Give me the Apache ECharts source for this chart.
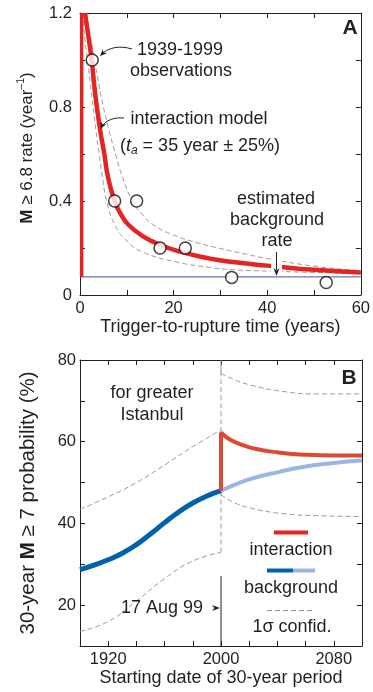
<!DOCTYPE html>
<html>
<head>
<meta charset="utf-8">
<script src="https://cdn.jsdelivr.net/npm/echarts@6/dist/echarts.min.js"></script>
<style>
  html, body { margin: 0; padding: 0; background: #fff; }
  #chart { width: 373px; height: 692px; }
</style>
</head>
<body>
<div id="chart"></div>
<script>
// ---- panel A: M>=6.8 rate vs trigger-to-rupture time ----
const obsA = [[2.6, 1.0], [7.4, 0.4], [12.1, 0.4], [17.1, 0.2], [22.5, 0.2], [32.4, 0.075], [52.6, 0.053]]
const modelA = [[1.06, 1.2], [1.8, 1.1], [2.5, 1.0], [3.0, 0.9], [3.6, 0.8], [4.4, 0.69], [5.2, 0.6], [6.0, 0.5],
  [7.4, 0.4], [8.7, 0.345], [10.3, 0.3], [13.2, 0.253], [17, 0.214], [22.2, 0.18], [27.5, 0.156], [33.2, 0.139],
  [40, 0.125], [50, 0.107], [60, 0.096]]
const upperA = [[1.4, 1.2], [2.2, 1.1], [3.1, 1.0], [4.0, 0.9], [5.0, 0.8], [6.2, 0.7], [7.6, 0.6], [9.1, 0.5],
  [11.2, 0.4], [13.2, 0.345], [15.6, 0.3], [20, 0.255], [25, 0.223], [30, 0.198], [35, 0.176], [40, 0.155],
  [50, 0.123], [60, 0.103]]
const lowerA = [[0.6, 1.2], [1.0, 1.1], [1.6, 1.0], [2.2, 0.9], [2.8, 0.8], [3.4, 0.7], [4.1, 0.6], [4.8, 0.5],
  [5.7, 0.4], [7.4, 0.3], [9.8, 0.234], [13.3, 0.184], [20.3, 0.142], [27.5, 0.118], [33.2, 0.107],
  [40, 0.102], [50, 0.096], [60, 0.092]]
const bgRateA = 0.077
const stepTimeA = 0.35

// ---- panel B: 30-year M>=7 probability vs starting date ----
const bgPast = [[1900, 28.7], [1910, 29.8], [1920, 31.1], [1930, 32.7], [1940, 34.8], [1950, 37.4], [1960, 40.2],
  [1970, 42.8], [1980, 45.0], [1990, 46.7], [2000, 48.0]]
const bgFuture = [[2000, 48.0], [2013.5, 50.0], [2025, 51.3], [2040, 52.5], [2056, 53.7], [2080, 54.8], [2100, 55.4]]
const interB = [[2000, 62.3], [2006, 60.6], [2013, 59.5], [2025, 58.2], [2040, 57.4], [2056, 56.9], [2080, 56.6], [2100, 56.6]]
const upperPast = [[1900, 43.5], [1920, 46.5], [1940, 50.0], [1960, 54.3], [1980, 58.8], [2000, 62.9]]
const lowerPast = [[1900, 13.6], [1920, 16.0], [1940, 21.0], [1960, 26.5], [1980, 30.8], [2000, 32.9]]
const upperFuture = [[2000, 76.7], [2008.7, 75.3], [2020.6, 73.9], [2044, 72.3], [2068, 71.7], [2100, 71.7]]
const lowerFuture = [[2000, 47.0], [2008.7, 45.2], [2020.6, 43.8], [2044, 42.4], [2068, 41.9], [2100, 41.7]]
const quakeYear = 2000
const quakeMarkTop = 27.1

const xLabelsA = [0, 20, 40, 60]
const yLabelsA = [0, 0.4, 0.8, 1.2]
const xLabelsB = [1920, 2000, 2080]
const yLabelsB = [20, 40, 60, 80]

const FONT = 'Liberation Sans, Arial, Helvetica, sans-serif'
const INK = '#231f20'
const RED = '#e52421'
const RED_B = '#dc4a32'
const DARK_BLUE = '#0062ad'
const LIGHT_BLUE = '#9cb6e2'
const GRAY = '#9a9a9a'

const chart = echarts.init(document.getElementById('chart'), null, { renderer: 'canvas' })

const frameLine = { show: true, onZero: false, lineStyle: { color: INK, width: 1 } }
const frameTick = { show: true, inside: true, length: 5, lineStyle: { color: INK, width: 1 } }

const pick = (list) => (v) => list.some(l => Math.abs(l - v) < 1e-6) ? String(+v.toFixed(1)) : ''

const makeX = (grid, pos, min, max, interval, labels, name, gap) => ({
  type: 'value', gridIndex: grid, position: pos, min, max, interval,
  axisLine: frameLine, axisTick: frameTick, splitLine: { show: false },
  axisLabel: labels ? { show: true, formatter: pick(labels), fontSize: 16.5, color: INK, fontFamily: FONT, margin: 5, showMinLabel: true, showMaxLabel: true } : { show: false },
  name: name || '', nameLocation: 'middle', nameGap: gap,
  nameTextStyle: { fontSize: 18, color: INK, fontFamily: FONT },
})
const makeY = (grid, pos, min, max, interval, labels, name, gap, margin, nameSize, namePad) => ({
  type: 'value', gridIndex: grid, position: pos, min, max, interval,
  axisLine: frameLine, axisTick: frameTick, splitLine: { show: false },
  axisLabel: labels ? { show: true, formatter: pick(labels), fontSize: 16.5, color: INK, fontFamily: FONT, margin, showMinLabel: true, showMaxLabel: true } : { show: false },
  name: name || '', nameLocation: 'middle', nameGap: gap, nameRotate: 90,
  nameTextStyle: {
    fontSize: nameSize || 18, lineHeight: 22, color: INK, fontFamily: FONT, padding: namePad || 0,
    rich: {
      b: { fontWeight: 'bold', fontSize: nameSize || 18, lineHeight: 22, fontFamily: FONT, color: INK },
      sup: { fontSize: 10.5, lineHeight: 10, verticalAlign: 'top', fontFamily: FONT, color: INK },
    },
  },
})

const dashed = (xi, yi, data) => ({
  type: 'line', xAxisIndex: xi, yAxisIndex: yi, data, smooth: true, symbol: 'none', silent: true,
  lineStyle: { color: GRAY, width: 1, type: [5, 3] }, z: 2,
})
const solid = (xi, yi, data, color, width, smooth, z) => ({
  type: 'line', xAxisIndex: xi, yAxisIndex: yi, data, smooth: !!smooth, symbol: 'none', silent: true,
  lineStyle: { color, width, cap: 'butt' }, z: z || 3,
})

// little arrow heads for the annotations
const head = (tx, ty, dx, dy, len, half) => {
  const n = Math.hypot(dx, dy); const ux = dx / n; const uy = dy / n
  const bx = tx - ux * len; const by = ty - uy * len
  return {
    type: 'polygon', z: 100,
    shape: { points: [[tx, ty], [bx - uy * half, by + ux * half], [tx - ux * len * 0.7, ty - uy * len * 0.7], [bx + uy * half, by - ux * half]] },
    style: { fill: INK },
  }
}
const txt = (x, y, text, extra) => ({
  type: 'text', x, y, z: 100,
  style: Object.assign({ text, fill: INK, fontSize: 18, fontFamily: FONT, align: 'center', verticalAlign: 'middle' }, extra || {}),
})
const curve = (x1, y1, c1x, c1y, c2x, c2y, x2, y2) => ({
  type: 'bezierCurve', z: 100,
  shape: { x1, y1, cpx1: c1x, cpy1: c1y, cpx2: c2x, cpy2: c2y, x2, y2 },
  style: { stroke: INK, lineWidth: 1, fill: null },
})

const option = {
  animation: false,
  backgroundColor: '#fff',
  textStyle: { fontFamily: FONT },
  grid: [
    { left: 80, top: 13, width: 282, height: 282 },
    { left: 80, top: 360, width: 282, height: 286 },
  ],
  xAxis: [
    makeX(0, 'bottom', 0, 60, 10, xLabelsA, 'Trigger-to-rupture time (years)', 19),
    makeX(0, 'top', 0, 60, 10, null),
    makeX(1, 'bottom', 1900, 2100, 20, xLabelsB, 'Starting date of 30-year period', 23),
    makeX(1, 'top', 1900, 2100, 20, null),
  ],
  yAxis: [
    makeY(0, 'left', 0, 1.2, 0.2, yLabelsA, '{b|M} ≥ 6.8 rate (year{sup|–1})', 42, 8, 17, [0, 0, 0, 12]),
    makeY(0, 'right', 0, 1.2, 0.2, null),
    makeY(1, 'left', 10, 80, 10, yLabelsB, '30-year {b|M} ≥ 7 probability (%)', 41, 4, 20.5),
    makeY(1, 'right', 10, 80, 10, null),
  ],
  series: [
    // panel A
    dashed(0, 0, lowerA),
    dashed(0, 0, upperA),
    solid(0, 0, [[0, bgRateA], [60, bgRateA]], '#3a56a6', 1, false, 2),
    solid(0, 0, [[stepTimeA, bgRateA], [stepTimeA, 1.2]], RED, 3.5, false, 4),
    solid(0, 0, modelA, RED, 4.5, true, 4),
    {
      type: 'scatter', xAxisIndex: 0, yAxisIndex: 0, data: obsA, symbol: 'circle', symbolSize: 12, silent: true, z: 10,
      itemStyle: { color: '#fff', borderColor: '#111', borderWidth: 1.5 },
    },
    // panel B
    dashed(2, 2, upperPast),
    dashed(2, 2, lowerPast),
    dashed(2, 2, upperFuture),
    dashed(2, 2, lowerFuture),
    dashed(2, 2, [[quakeYear, lowerPast[lowerPast.length - 1][1]], [quakeYear, upperFuture[0][1]]]),
    solid(2, 2, [[quakeYear, upperFuture[0][1]], [quakeYear, 80]], '#8a8a8a', 1, false, 2),
    solid(2, 2, [[quakeYear, 10], [quakeYear, quakeMarkTop]], INK, 1, false, 2),
    solid(2, 2, bgFuture, LIGHT_BLUE, 4, true, 3),
    solid(2, 2, bgPast, DARK_BLUE, 5, true, 4),
    solid(2, 2, [[quakeYear, bgPast[bgPast.length - 1][1]], interB[0]], RED_B, 4, false, 4),
    solid(2, 2, interB, RED_B, 4, true, 4),
  ],
  graphic: [
    // panel A labels
    txt(350, 28, 'A', { fontSize: 21, fontWeight: 'bold' }),
    txt(180, 50, '1939-1999'),
    txt(181, 71, 'observations'),
    curve(132, 49, 119, 45, 109, 48, 103, 53),
    head(100, 56, -3, 3, 7, 3),
    txt(199, 119, 'interaction model'),
    {
      type: 'text', x: 200, y: 146, z: 100,
      style: {
        text: '({i|t}{s|a} = 35 year ± 25%)', fill: INK, fontSize: 18, fontFamily: FONT, align: 'center', verticalAlign: 'middle',
        rich: {
          i: { fontSize: 18, fontStyle: 'italic', lineHeight: 22, fontFamily: FONT },
          s: { fontSize: 12, fontStyle: 'italic', lineHeight: 12, verticalAlign: 'bottom', fontFamily: FONT },
        },
      },
    },
    curve(124, 118, 113, 117, 106, 121, 103, 125),
    head(100.5, 129, -2, 4, 7, 3),
    txt(276, 199, 'estimated'),
    txt(277, 220, 'background'),
    txt(277, 241, 'rate'),
    { type: 'rect', z: 90, shape: { x: 271, y: 256, width: 11, height: 17 }, style: { fill: '#fff' } },
    { type: 'line', z: 100, shape: { x1: 276.5, y1: 252, x2: 276.5, y2: 270 }, style: { stroke: INK, lineWidth: 1 } },
    head(276.5, 276, 0, 1, 8, 3),
    // panel B labels
    txt(349, 378, 'B', { fontSize: 21, fontWeight: 'bold' }),
    txt(152, 393, 'for greater'),
    txt(152, 415, 'Istanbul'),
    txt(203, 608, '17 Aug 99', { align: 'right' }),
    head(220, 608, 1, 0, 8, 3),
    { type: 'line', z: 100, shape: { x1: 274, y1: 532.5, x2: 308, y2: 532.5 }, style: { stroke: RED, lineWidth: 4 } },
    txt(291, 550, 'interaction'),
    { type: 'line', z: 100, shape: { x1: 267, y1: 570.5, x2: 293, y2: 570.5 }, style: { stroke: DARK_BLUE, lineWidth: 4 } },
    { type: 'line', z: 100, shape: { x1: 293, y1: 570.5, x2: 315, y2: 570.5 }, style: { stroke: LIGHT_BLUE, lineWidth: 4 } },
    txt(291, 588, 'background'),
    { type: 'line', z: 100, shape: { x1: 267, y1: 610.5, x2: 315, y2: 610.5 }, style: { stroke: GRAY, lineWidth: 1, lineDash: [5, 3] } },
    txt(292, 627, '1σ confid.'),
  ],
}

chart.setOption(option)
</script>
</body>
</html>
